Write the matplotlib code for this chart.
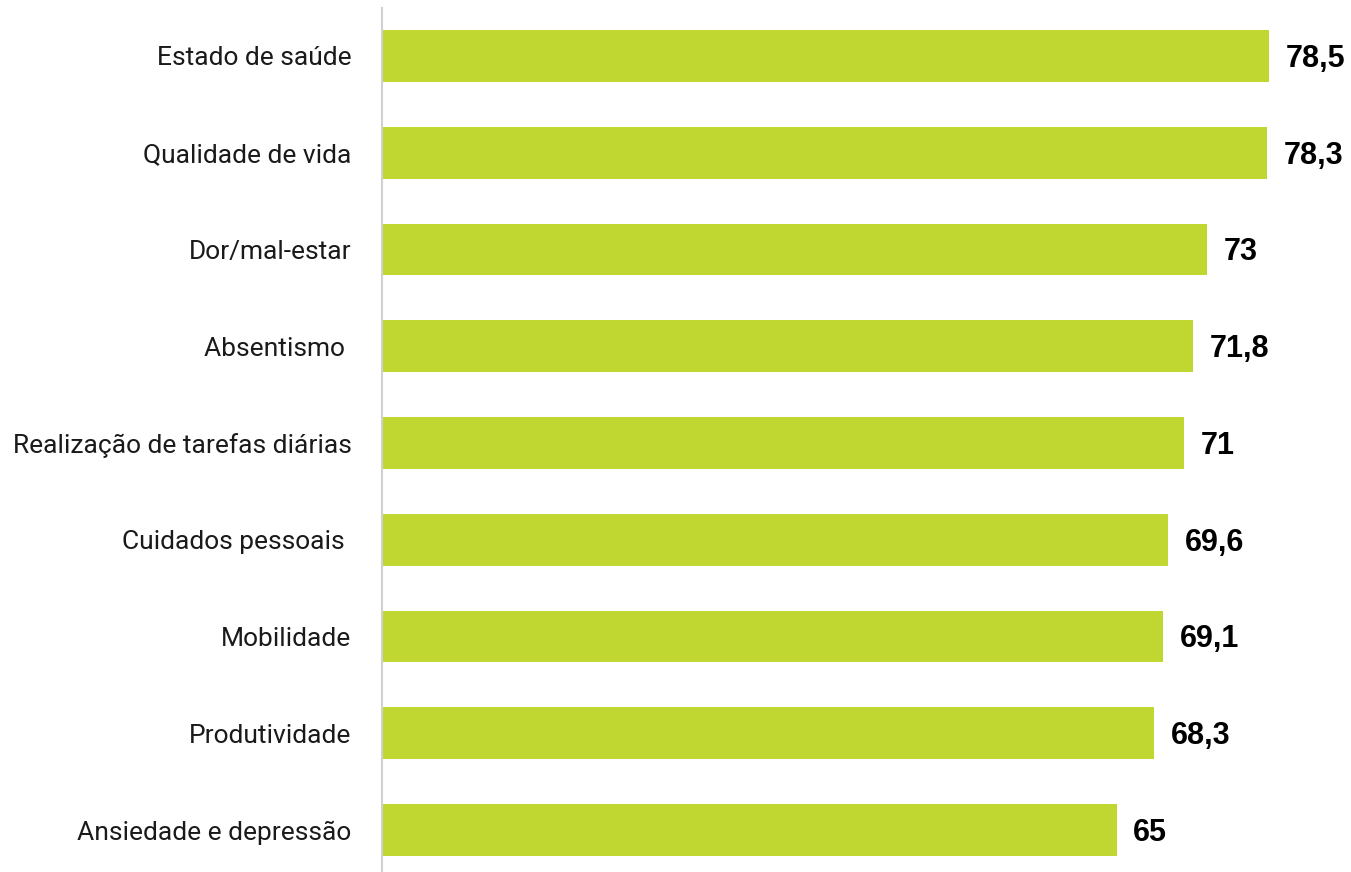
import matplotlib
matplotlib.use("Agg")
import matplotlib.pyplot as plt

categories = ["Estado de saúde", "Qualidade de vida", "Dor/mal-estar", "Absentismo ",
              "Realização de tarefas diárias", "Cuidados pessoais ", "Mobilidade",
              "Produtividade", "Ansiedade e depressão"]
values = [78.5, 78.3, 73, 71.8, 71, 69.6, 69.1, 68.3, 65]
value_labels = ["78,5", "78,3", "73", "71,8", "71", "69,6", "69,1", "68,3", "65"]

fig = plt.figure(figsize=(13.51, 8.72), dpi=100)
ax = fig.add_axes([382/1351, 0, 1 - 382/1351, 1 - 8/872])
pos = list(range(len(categories)))
ax.barh(pos, values, height=0.537, color="#C0D731")
ax.set_ylim(8.434, -0.496)
ax.set_xlim(0, (1351 - 382) / 11.3)
ax.set_yticks(pos)
ax.set_yticklabels(categories, fontsize=19, fontfamily="Roboto", color="#1a1a1a")
ax.tick_params(axis="y", length=0, pad=22)
ax.set_xticks([])
for s in ["top", "right", "bottom"]:
    ax.spines[s].set_visible(False)
ax.spines["left"].set_color("#d0d0d0")
ax.spines["left"].set_linewidth(1.5)
for p, v, t in zip(pos, values, value_labels):
    ax.annotate(t, (v, p), xytext=(12, -2), textcoords="offset points",
                va="center", ha="left", fontsize=22, fontweight="bold",
                fontfamily="Liberation Sans", color="#000000")
fig.savefig("out.png", dpi=100)
